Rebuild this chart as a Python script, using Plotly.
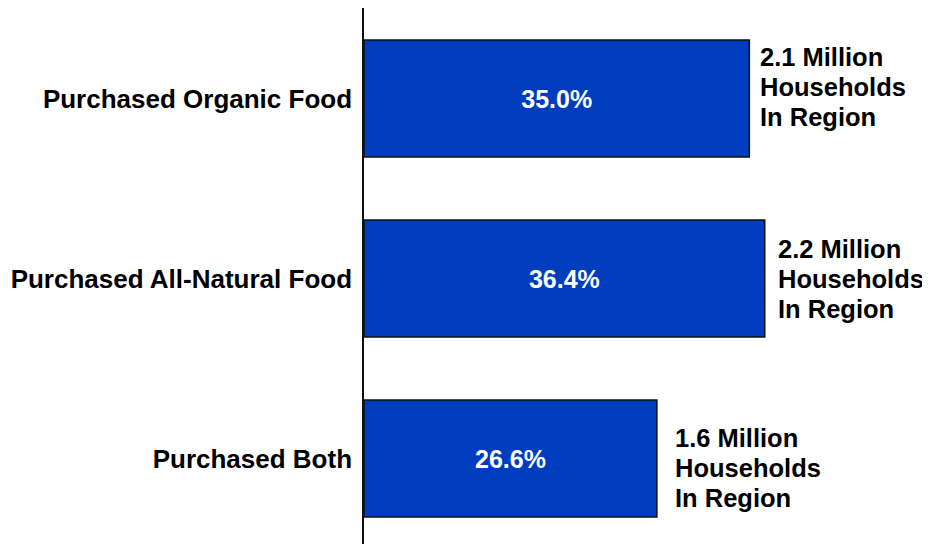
import plotly.graph_objects as go

categories = ["Purchased Organic Food", "Purchased All-Natural Food", "Purchased Both"]
percentages = [35.0, 36.4, 26.6]
households = ["2.1 Million<br>Households<br>In Region",
              "2.2 Million<br>Households<br>In Region",
              "1.6 Million<br>Households<br>In Region"]

# label placement tweaks (pixels)
label_xshift = [8.5, 11.0, 16.0]
label_mid_offset = [-11.8, 0.5, 9.4]   # downward offset of middle line from bar centre
line_gap = 30

FONT = "Arial, Liberation Sans, sans-serif"
ypos = list(range(len(categories)))

fig = go.Figure()
fig.add_trace(go.Bar(
    x=percentages,
    y=ypos,
    orientation="h",
    width=0.65,
    marker=dict(color="#003DBE", line=dict(color="#111111", width=1.5)),
    text=[f"{v:.1f}%" for v in percentages],
    textposition="inside",
    insidetextanchor="middle",
    textangle=0,
    textfont=dict(family=FONT, size=25, color="white", weight="bold"),
    hoverinfo="skip",
))

for yv, v, t, xs, mo in zip(ypos, percentages, households, label_xshift, label_mid_offset):
    for i, line in enumerate(t.split("<br>")):
        fig.add_annotation(
            x=v, y=yv, xref="x", yref="y",
            text=line, showarrow=False,
            xanchor="left", yanchor="middle", align="left",
            xshift=xs, yshift=-(mo + (i - 1) * line_gap),
            font=dict(family=FONT, size=25.5, color="black", weight="bold"),
        )

fig.update_layout(
    width=922, height=536,
    margin=dict(l=356, r=1, t=0, b=0),
    paper_bgcolor="white", plot_bgcolor="white",
    showlegend=False,
)
fig.update_xaxes(range=[0, 565 / 11.01], visible=False, fixedrange=True)
fig.update_yaxes(
    range=[2.475, -0.503],
    tickvals=ypos, ticktext=categories,
    showline=True, linecolor="#111111", linewidth=1.5,
    showgrid=False, zeroline=False, ticks="",
    ticklabelstandoff=5,
    tickfont=dict(family=FONT, size=26, color="black", weight="bold"),
)

fig.write_html("out.html")
